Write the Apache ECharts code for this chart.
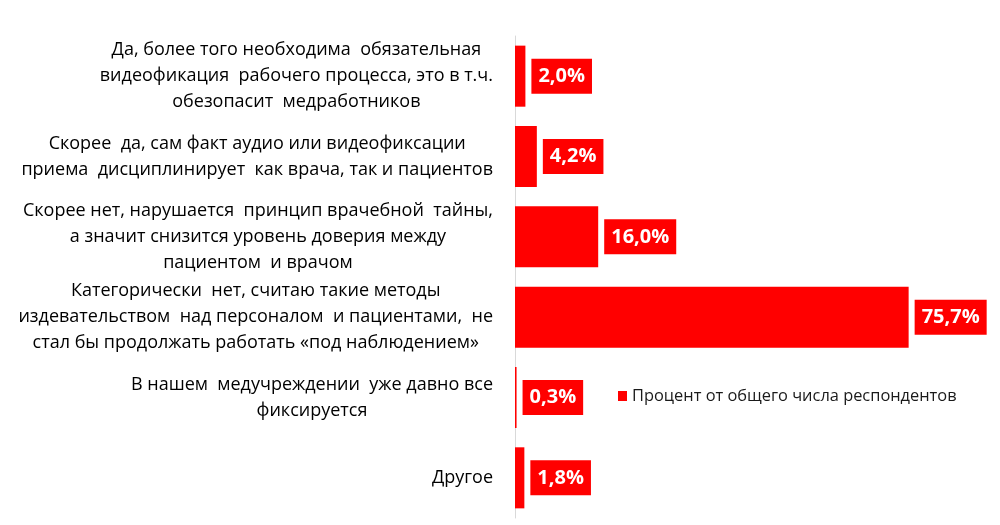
<!DOCTYPE html>
<html>
<head>
<meta charset="utf-8">
<script src="https://cdn.jsdelivr.net/npm/echarts@6/dist/echarts.min.js"></script>
<style>
  html, body { margin: 0; padding: 0; background: #fff; }
  #chart { width: 1000px; height: 525px; }
</style>
</head>
<body>
<div id="chart"></div>
<script>
const categories = [
  "Да, более того необходима  обязательная\nвидеофикация  рабочего процесса, это в т.ч.\nобезопасит  медработников",
  "Скорее  да, сам факт аудио или видеофиксации\nприема  дисциплинирует  как врача, так и пациентов",
  "Скорее нет, нарушается  принцип врачебной  тайны,\nа значит снизится уровень доверия между\nпациентом  и врачом",
  "Категорически  нет, считаю такие методы\nиздевательством  над персоналом  и пациентами,  не\nстал бы продолжать работать «под наблюдением»",
  "В нашем  медучреждении  уже давно все\nфиксируется",
  "Другое"
];
const values = [2.0, 4.2, 16.0, 75.7, 0.3, 1.8];
const seriesName = "Процент от общего числа респондентов";

const RED = "#ff0000";
const chart = echarts.init(document.getElementById('chart'), null, { renderer: 'canvas' });
chart.setOption({
  animation: false,
  backgroundColor: '#fff',
  grid: { left: 515, right: 17, top: 36, bottom: 7, containLabel: false },
  legend: {
    data: [seriesName],
    left: 618, top: 388, padding: 0,
    icon: 'rect', itemWidth: 9, itemHeight: 10, itemGap: 5,
    textStyle: { fontFamily: 'Open Sans', fontSize: 16.4, color: '#1a1a1a' }
  },
  xAxis: {
    type: 'value', min: 0, max: 90,
    show: false, splitLine: { show: false }
  },
  yAxis: {
    type: 'category', inverse: true, data: categories,
    axisLine: { show: true, lineStyle: { color: '#d9d9d9', width: 1 } },
    axisTick: { show: false },
    axisLabel: {
      margin: 22,
      align: 'right',
      formatter: function (v) {
        return v.split('\n').map(function (l) { return '{c|' + l + '}'; }).join('\n');
      },
      rich: {
        c: { align: 'center', fontFamily: 'Open Sans', fontSize: 18, lineHeight: 26, color: '#000' }
      }
    }
  },
  series: [{
    name: seriesName,
    type: 'bar',
    data: values,
    barCategoryGap: '24%',
    itemStyle: { color: RED },
    label: {
      show: true, position: 'right', distance: 6,
      formatter: function (p) { return p.value.toFixed(1).replace('.', ',') + '%'; },
      backgroundColor: RED, color: '#fff',
      fontFamily: 'Open Sans', fontWeight: 'bold', fontSize: 20, lineHeight: 21,
      padding: [7, 7]
    }
  }]
});
</script>
</body>
</html>
